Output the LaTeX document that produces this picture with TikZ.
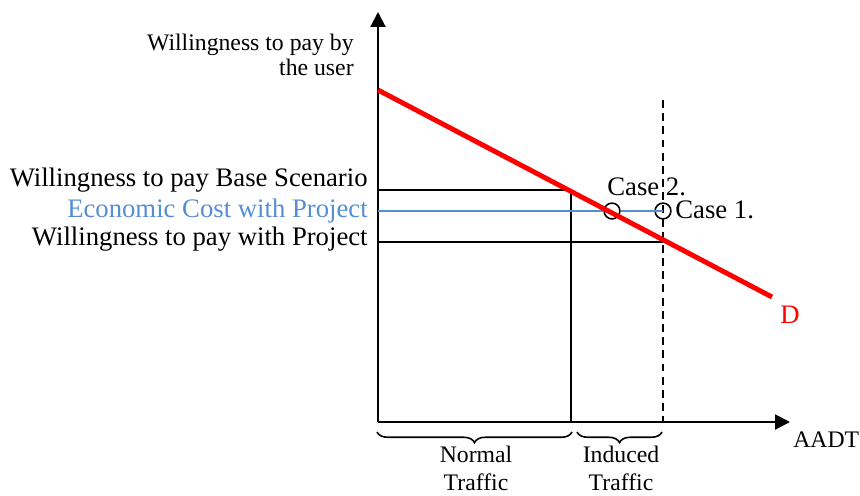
\documentclass[tikz,border=0pt]{standalone}
\usepackage{fontspec}
\setmainfont{Liberation Serif}
\usepackage{xcolor}
\usetikzlibrary{arrows.meta,calc,positioning,decorations.pathreplacing}

\definecolor{costblue}{HTML}{558ED5}

\tikzset{
  axis/.style={line width=1.2pt, -{Triangle[length=8.5pt,width=8.5pt]}},
  level/.style={line width=0.8pt},
  demand/.style={red, line width=2.8pt},
  lbl/.style={inner sep=0pt, font=\fontsize{15.2}{16}\selectfont},
  small lbl/.style={inner sep=0pt, font=\fontsize{13.5}{14.2}\selectfont},
  point/.style={circle, draw, line width=0.9pt, minimum size=9pt, inner sep=0pt},
  span/.style={decorate, decoration={brace, mirror, amplitude=6pt}, line width=0.9pt}
}

\begin{document}
\begin{tikzpicture}[x=0.02cm, y=-0.02cm]

  % frame
  \useasboundingbox (0,0) rectangle (860,495);

  % =========================================================
  % Axes
  % =========================================================
  \coordinate (O) at (378,422);
  \coordinate (Ytop) at (378,12);
  \coordinate (Xend) at (790,422);
  \draw[axis] (O) -- (Ytop);
  \draw[axis] (O) -- (Xend);

  % Axis labels
  \node[small lbl, anchor=base east, align=right] (ylab) at (354,75) {Willingness to pay by\\the user};
  \node[small lbl, anchor=base west] (xlab) at (793,447) {AADT};

  % =========================================================
  % Demand curve
  % =========================================================
  \coordinate (D1) at (378,90);
  \coordinate (D2) at (772,297);

  % Price levels
  \coordinate (Pb) at (378,190);
  \coordinate (Pc) at (378,211);
  \coordinate (Pp) at (378,242);
  \coordinate (Qb) at (571,190);
  \coordinate (Qp) at (663,242);

  \draw[level] (Pb) -- (Qb);
  \draw[level] (Pp) -- (Qp);
  \draw[level] (Qb) -- (Qb |- O);
  \draw[level, dash pattern=on 4.5pt off 3pt] (663,100) -- (Qp |- O);

  % Economic cost line and the two cases
  \node[point] (case2) at (612,211) {};
  \node[point] (case1) at (663,211) {};
  \draw[costblue, line width=0.8pt] (Pc) -- (case2.west);
  \draw[costblue, line width=0.8pt] (case2.east) -- (case1.center);

  \draw[demand] (D1) -- (D2);

  % Level labels
  \node[lbl, anchor=base east] (base) at (368,186) {Willingness to pay Base Scenario};
  \node[lbl, anchor=base east, text=costblue] (cost) at (368,217) {Economic Cost with Project};
  \node[lbl, anchor=base east] (proj) at (368,245) {Willingness to pay with Project};

  \node[lbl, anchor=base west] (c2lab) at (607,195) {Case 2.};
  \node[lbl, anchor=base west] (c1lab) at (675,218) {Case 1.};
  \node[lbl, anchor=base west, text=red] (dlab) at (780,323) {D};

  % =========================================================
  % Traffic braces
  % =========================================================
  \draw[span] (377,432) -- (572,432);
  \draw[span] (577,432) -- (662,432);
  \node[small lbl, align=center, anchor=base, font=\fontsize{13.5}{15.9}\selectfont] (normal) at (476,490) {Normal\\Traffic};
  \node[small lbl, align=center, anchor=base, font=\fontsize{13.5}{15.9}\selectfont] (induced) at (621,490) {Induced\\Traffic};

\end{tikzpicture}
\end{document}
